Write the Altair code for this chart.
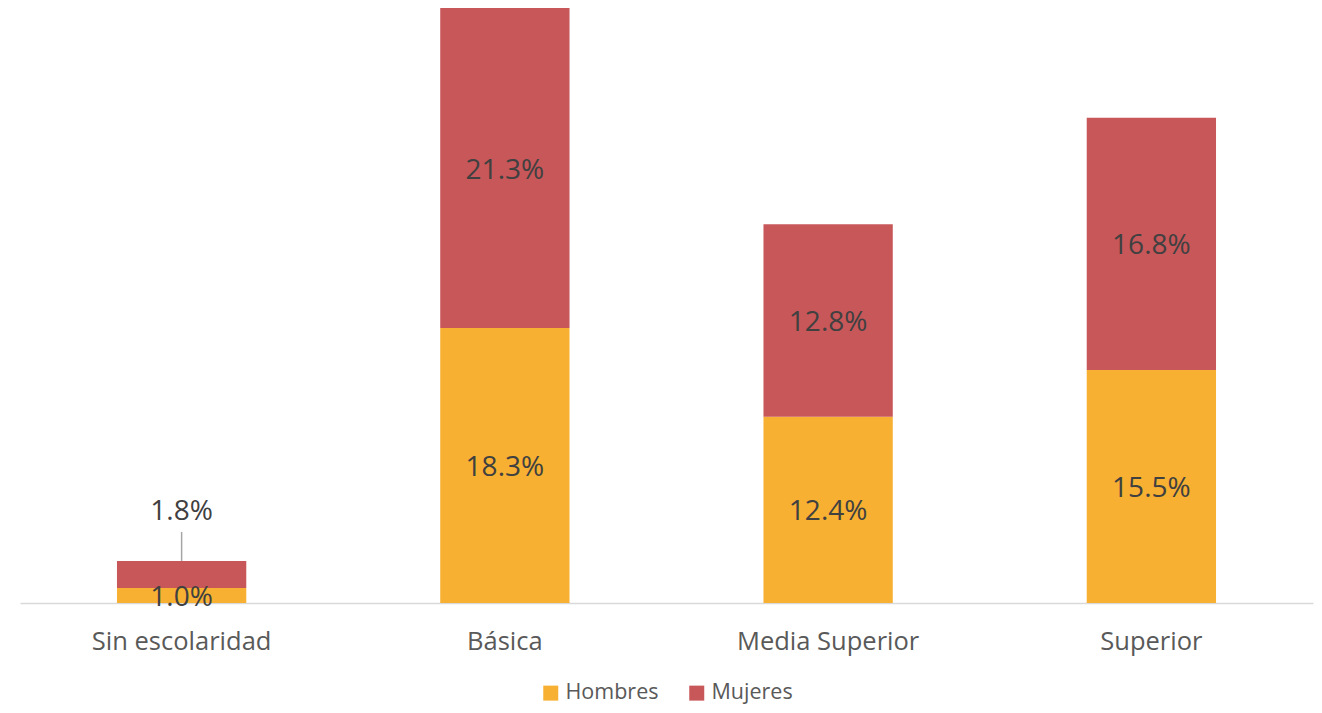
import altair as alt
import pandas as pd

categories = ["Sin escolaridad", "Básica", "Media Superior", "Superior"]
hombres = [1.0, 18.3, 12.4, 15.5]
mujeres = [1.8, 21.3, 12.8, 16.8]
series = ["Hombres", "Mujeres"]
colors = ["#F7B032", "#C8575A"]

rows = []
for c, h, m in zip(categories, hombres, mujeres):
    rows.append({"cat": c, "serie": "Hombres", "val": h, "y0": 0.0, "y1": h,
                 "mid": h / 2, "label": f"{h:.1f}%", "small": False})
    rows.append({"cat": c, "serie": "Mujeres", "val": m, "y0": h, "y1": h + m,
                 "mid": h + m / 2, "label": f"{m:.1f}%", "small": m < 3})
df = pd.DataFrame(rows)

FONT = "Open Sans"
xenc = alt.X("cat:N", sort=categories, title=None,
             scale=alt.Scale(paddingInner=0.6, paddingOuter=0.3),
             axis=alt.Axis(labelAngle=0, ticks=False, domainColor="#D9D9D9",
                           domainWidth=1.5, labelFont=FONT, labelFontSize=25.5,
                           labelColor="#595959", labelPadding=26, labelBaseline="top",
                           labelLimit=0))
yscale = alt.Scale(domain=[0, 39.6], nice=False, zero=True)

base = alt.Chart(df)

bars = base.mark_bar().encode(
    x=xenc,
    y=alt.Y("y0:Q", scale=yscale, axis=None),
    y2="y1:Q",
    color=alt.Color("serie:N", sort=series,
                    scale=alt.Scale(domain=series, range=colors),
                    legend=alt.Legend(title=None, orient="none", direction="horizontal",
                                      legendX=520, legendY=674, symbolType="square",
                                      symbolSize=225, symbolStrokeWidth=0,
                                      labelFont=FONT, labelFontSize=21.5,
                                      labelColor="#595959", labelOffset=4,
                                      columnPadding=27, padding=0)),
)

inside = base.transform_filter("!datum.small").mark_text(
    font=FONT, fontSize=28, color="#404040", baseline="middle", align="center", dy=2.5
).encode(x=alt.X("cat:N", sort=categories), y=alt.Y("mid:Q", scale=yscale), text="label:N")

outside = base.transform_filter("datum.small").mark_text(
    font=FONT, fontSize=28, color="#404040", baseline="middle", align="center", dy=-49
).encode(x=alt.X("cat:N", sort=categories), y=alt.Y("y1:Q", scale=yscale), text="label:N")

leader = base.transform_filter("datum.small").mark_rule(
    color="#A6A6A6", strokeWidth=1.5, y2Offset=-29
).encode(x=alt.X("cat:N", sort=categories), y=alt.Y("y1:Q", scale=yscale), y2="y1:Q")

chart = alt.layer(bars, leader, inside, outside).properties(
    width=1293, height=595,
    autosize=alt.AutoSizeParams(type="none"),
    padding={"left": 12, "top": 0, "right": 1, "bottom": 102},
).configure_view(stroke=None)

chart.save("out.html", embed_options={"renderer": "svg", "actions": False})
